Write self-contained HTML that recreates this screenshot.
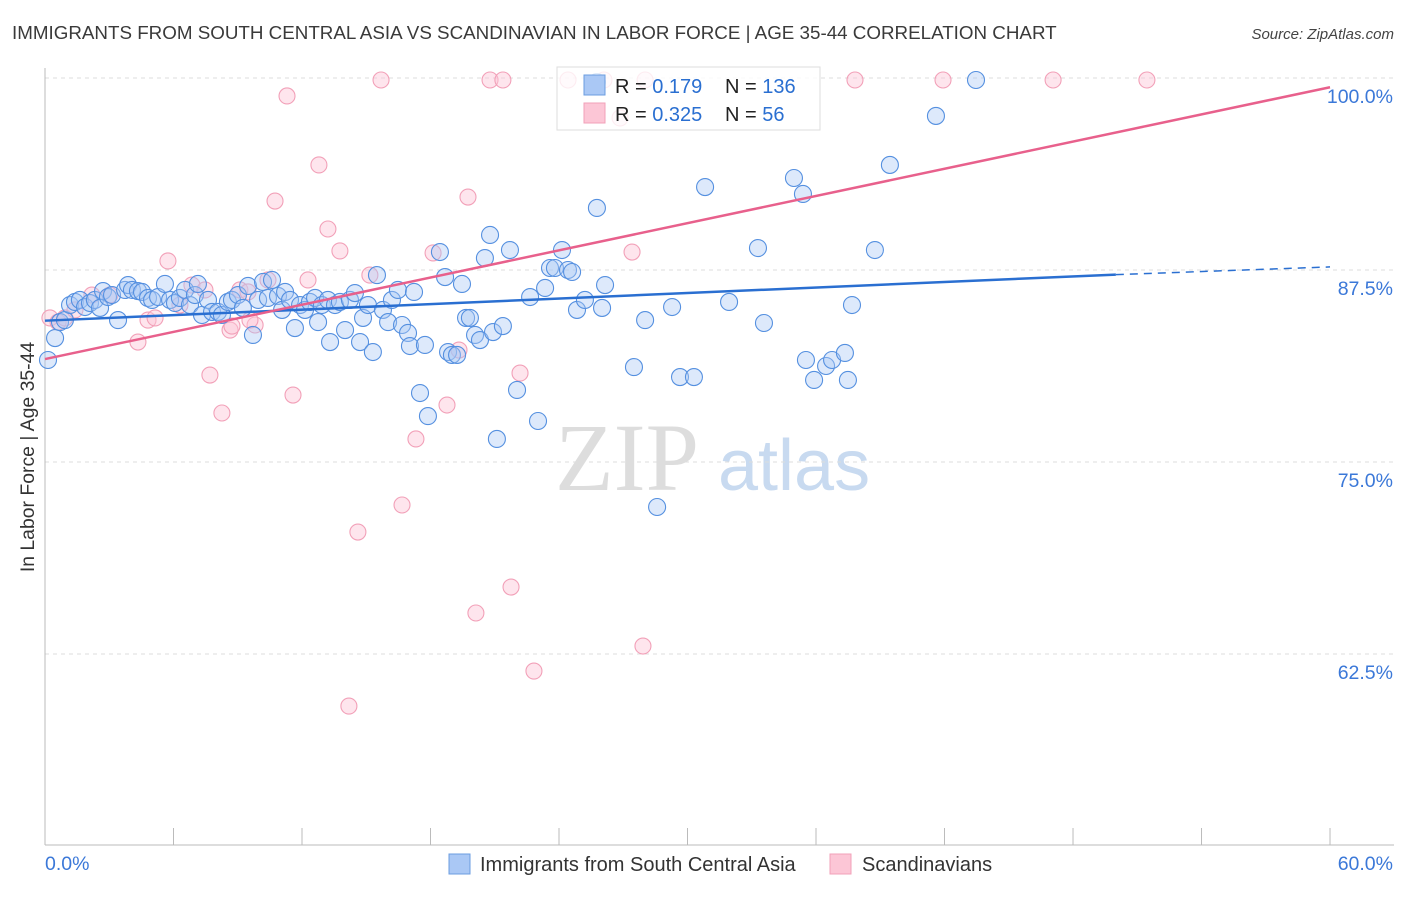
<!DOCTYPE html>
<html><head><meta charset="utf-8"><style>
body{margin:0;background:#fff;font-family:"Liberation Sans",sans-serif;}
</style></head><body>
<svg id="chart" width="1406" height="892" xmlns="http://www.w3.org/2000/svg" style="font-family:'Liberation Sans',sans-serif">
<text x="12" y="39" font-size="18.8" fill="#3a3a3a">IMMIGRANTS FROM SOUTH CENTRAL ASIA VS SCANDINAVIAN IN LABOR FORCE | AGE 35-44 CORRELATION CHART</text>
<text x="1394" y="39" font-size="15" fill="#444" text-anchor="end" font-style="italic">Source: ZipAtlas.com</text>
<text x="555" y="490" font-size="96" fill="#ddd" font-family="Liberation Serif,serif">ZIP</text>
<text x="718" y="490" font-size="72" fill="#c8daf0">atlas</text>
<g id="grid"></g>
<g id="axes"></g>
<g id="pts"></g>
<g id="trend"></g>
<text transform="translate(34,457) rotate(-90)" font-size="19.4" fill="#333" text-anchor="middle">In Labor Force | Age 35-44</text>
<g>
<rect x="557" y="67" width="263" height="63" fill="#fff" fill-opacity="0.8" stroke="#ddd"/>
<rect x="584" y="75" width="21" height="20" fill="#aac8f5" stroke="#6b9de0"/>
<rect x="584" y="103" width="21" height="20" fill="#fcc6d6" stroke="#f2a0b8"/>
<text x="615" y="93" font-size="20" fill="#222">R = <tspan fill="#2a6fd1">0.179</tspan></text>
<text x="725" y="93" font-size="20" fill="#222">N = <tspan fill="#2a6fd1">136</tspan></text>
<text x="615" y="121" font-size="20" fill="#222">R = <tspan fill="#2a6fd1">0.325</tspan></text>
<text x="725" y="121" font-size="20" fill="#222">N = <tspan fill="#2a6fd1"> 56</tspan></text>
</g>
<g>
<rect x="449" y="854" width="21" height="20" fill="#aac8f5" stroke="#6b9de0"/>
<text x="480" y="871" font-size="20" fill="#333">Immigrants from South Central Asia</text>
<rect x="830" y="854" width="21" height="20" fill="#fcc6d6" stroke="#f2a0b8"/>
<text x="862" y="871" font-size="20" fill="#333">Scandinavians</text>
</g>
</svg>
<script>
const yTicks=[100,87.5,75,62.5];
const yTickLabels=["100.0%","87.5%","75.0%","62.5%"];
const xEnds=["0.0%","60.0%"];
const blueTrend=[[0,84.2],[50,87.2],[60,87.7]];
const pinkTrend=[[0,81.7],[60,99.4]];
const bluePx=[[48,360],[55,338],[60,322],[65,320],[70,305],[75,302],[80,300],[85,307],[90,303],[95,300],[100,308],[103,291],[108,297],[112,295],[118,320],[125,290],[128,285],[132,290],[138,291],[142,292],[148,298],[152,300],[158,297],[165,284],[170,300],[175,303],[180,298],[185,290],[190,305],[195,295],[198,284],[202,315],[208,300],[212,312],[218,312],[222,315],[228,302],[232,300],[238,295],[243,308],[248,286],[253,335],[258,300],[263,282],[268,298],[272,280],[278,296],[282,310],[285,292],[290,300],[295,328],[300,305],[305,310],[310,302],[315,298],[318,322],[322,305],[328,300],[330,342],[335,305],[340,302],[345,330],[350,300],[355,293],[360,342],[363,318],[368,305],[373,352],[377,275],[383,310],[388,322],[392,300],[398,290],[402,325],[408,333],[410,346],[414,292],[420,393],[425,345],[428,416],[440,252],[445,277],[448,352],[452,355],[457,355],[462,284],[466,318],[470,318],[475,335],[480,340],[485,258],[490,235],[493,332],[497,439],[503,326],[510,250],[517,390],[530,297],[538,421],[545,288],[550,268],[555,268],[562,250],[568,270],[572,272],[577,310],[585,300],[597,208],[602,308],[605,285],[634,367],[645,320],[657,507],[672,307],[680,377],[694,377],[705,187],[729,302],[758,248],[764,323],[794,178],[803,194],[806,360],[814,380],[826,366],[832,360],[845,353],[848,380],[852,305],[875,250],[890,165],[936,116],[976,80],[597,82]];
const pinkPx=[[50,318],[58,322],[65,318],[75,310],[92,295],[110,295],[138,342],[148,320],[155,318],[168,261],[180,305],[192,285],[205,290],[210,375],[222,413],[230,330],[240,290],[248,292],[255,325],[268,280],[275,201],[287,96],[293,395],[308,280],[319,165],[328,229],[340,251],[358,532],[349,706],[370,275],[381,80],[402,505],[416,439],[433,253],[447,405],[459,350],[468,197],[476,613],[490,80],[503,80],[511,587],[520,373],[534,671],[568,80],[604,80],[620,118],[632,252],[643,646],[645,80],[855,80],[943,80],[1053,80],[1147,80],[250,320],[232,326]];
const blueX=bluePx.map(p=>+((p[0]-45)/21.417).toFixed(2)), blueY=bluePx.map(p=>+(100-(p[1]-78)/15.36).toFixed(2));
const pinkX=pinkPx.map(p=>+((p[0]-45)/21.417).toFixed(2)), pinkY=pinkPx.map(p=>+(100-(p[1]-78)/15.36).toFixed(2));
const X=v=>45+v*21.417, Y=v=>78+(100-v)*15.36;
const NS="http://www.w3.org/2000/svg";
function mk(t,a,p){const e=document.createElementNS(NS,t);for(const k in a)e.setAttribute(k,a[k]);p.appendChild(e);return e;}
const grid=document.getElementById('grid'),axes=document.getElementById('axes'),pts=document.getElementById('pts'),tr=document.getElementById('trend');
yTicks.forEach((v,i)=>{
 const l=mk('line',{x1:45,x2:1394,y1:Y(v),y2:Y(v),stroke:'#ddd','stroke-dasharray':'4,4'},grid);
 
 
 const t=mk('text',{x:1393,y:Y(v)+25,'font-size':19.5,fill:'#3b78d8','text-anchor':'end'},axes);t.textContent=yTickLabels[i];
 
 
});
const ax=mk('line',{x1:45,x2:45,y1:68,y2:845,stroke:'#bbb'},axes);


const bx=mk('line',{x1:45,x2:1394,y1:845,y2:845,stroke:'#bbb'},axes);


for(let i=0;i<=10;i++){const t=mk('line',{x1:X(i*6),x2:X(i*6),y1:828,y2:845,stroke:'#bbb'},axes);
 
 }
const xl=mk('text',{x:45,y:870,'font-size':19.5,fill:'#3b78d8'},axes);xl.textContent=xEnds[0];


const xr=mk('text',{x:1393,y:870,'font-size':19.5,fill:'#3b78d8','text-anchor':'end'},axes);xr.textContent=xEnds[1];


pinkX.forEach((x,i)=>{const c=mk('circle',{cx:X(x),cy:Y(pinkY[i]),r:8,fill:'#fcc6d6','fill-opacity':0.45,stroke:'#f2a0b8','stroke-width':1.1},pts);
 
 });
blueX.forEach((x,i)=>{const c=mk('circle',{cx:X(x),cy:Y(blueY[i]),r:8.5,fill:'#aac8f5','fill-opacity':0.4,stroke:'#5590e0','stroke-width':1.1},pts);
 
 });
const b1=mk('line',{x1:X(blueTrend[0][0]),y1:Y(blueTrend[0][1]),x2:X(blueTrend[1][0]),y2:Y(blueTrend[1][1]),stroke:'#2a6fd1','stroke-width':2.5},tr);


const b2=mk('line',{x1:X(blueTrend[1][0]),y1:Y(blueTrend[1][1]),x2:X(blueTrend[2][0]),y2:Y(blueTrend[2][1]),stroke:'#2a6fd1','stroke-width':1.5,'stroke-dasharray':'8,6'},tr);


const p1=mk('line',{x1:X(pinkTrend[0][0]),y1:Y(pinkTrend[0][1]),x2:X(pinkTrend[1][0]),y2:Y(pinkTrend[1][1]),stroke:'#e8608c','stroke-width':2.5},tr);


</script>
</body></html>
